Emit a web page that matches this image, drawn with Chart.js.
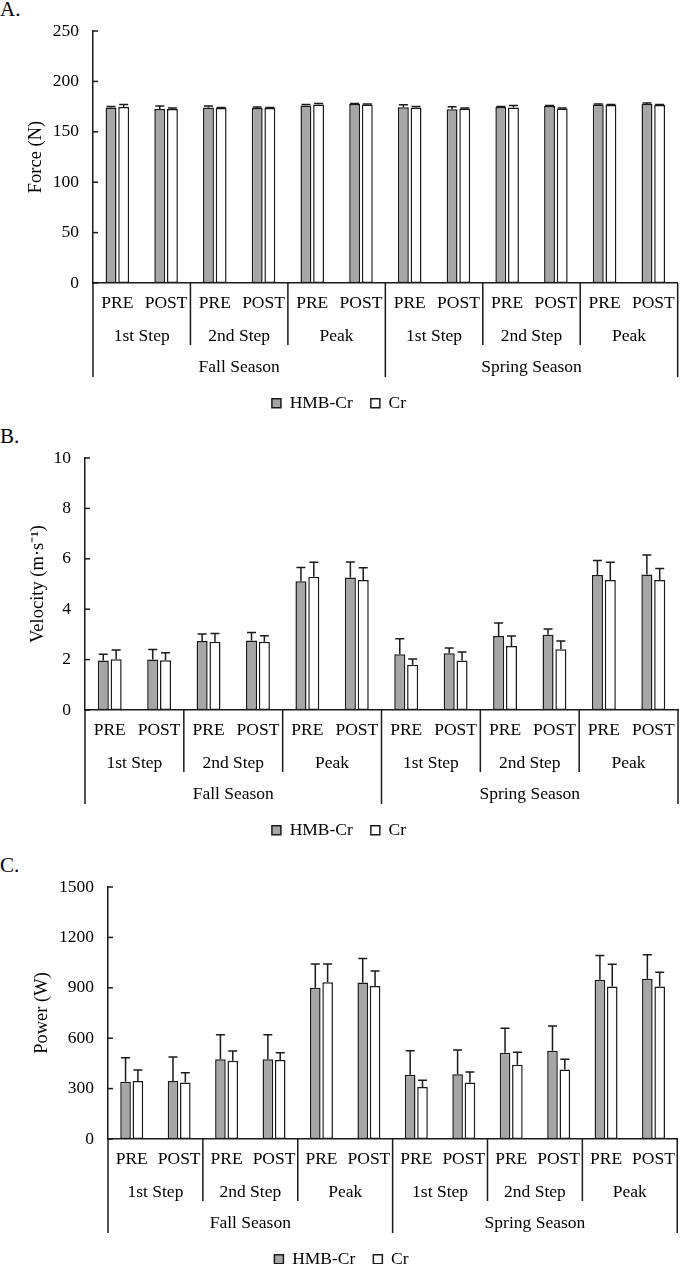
<!DOCTYPE html>
<html>
<head>
<meta charset="utf-8">
<script src="https://cdn.jsdelivr.net/npm/chart.js@4.4.0/dist/chart.umd.min.js"></script>
<style>
body { margin: 0; width: 685px; height: 1264px; overflow: hidden; background: #fff; position: relative; font-family: 'Liberation Serif', 'Times New Roman', serif; }
.panel { position: absolute; left: 0; width: 685px; height: 422px; }
.tag { position: absolute; left: 0; font-size: 21px; line-height: 21px; color: #000; }
</style>
</head>
<body>
<div class="tag" style="top:-1px">A.</div>
<div class="panel" style="top:0px"><canvas id="chartA"></canvas></div>
<div class="tag" style="top:426px">B.</div>
<div class="panel" style="top:427px"><canvas id="chartB"></canvas></div>
<div class="tag" style="top:855px">C.</div>
<div class="panel" style="top:856px"><canvas id="chartC"></canvas></div>
<script>
// x categories (three levels)
const categories = ['PRE', 'POST', 'PRE', 'POST', 'PRE', 'POST', 'PRE', 'POST', 'PRE', 'POST', 'PRE', 'POST'];
const steps = ['1st Step', '2nd Step', 'Peak', '1st Step', '2nd Step', 'Peak'];
const seasons = ['Fall Season', 'Spring Season'];
const seriesNames = ['HMB-Cr', 'Cr'];

// A. force (N)
const forceHmb = [174, 172.5, 174, 173.5, 176, 177.5, 174.3, 172.3, 174.5, 175.5, 177, 177.5];
const forceHmbErr = [1, 3, 1.5, 1, 1, 0.5, 2.5, 2.5, 0.5, 0.5, 0.5, 1];
const forceCr = [174.5, 172.5, 173.5, 173.5, 177, 177, 174, 173, 174, 173, 176.5, 176.5];
const forceCrErr = [2.5, 1, 0.5, 0.5, 1, 0.5, 1, 0.5, 2, 0.5, 0.5, 0.5];
const forceTicks = { max: 250, step: 50 };

// B. velocity (m/s)
const velHmb = [1.96, 2.0, 2.74, 2.76, 5.11, 5.26, 2.21, 2.25, 2.94, 2.99, 5.36, 5.38];
const velHmbErr = [0.25, 0.4, 0.28, 0.32, 0.54, 0.61, 0.62, 0.21, 0.51, 0.22, 0.57, 0.77];
const velCr = [2.01, 1.97, 2.71, 2.71, 5.29, 5.16, 1.8, 1.96, 2.54, 2.41, 5.16, 5.16];
const velCrErr = [0.37, 0.3, 0.33, 0.24, 0.57, 0.48, 0.22, 0.34, 0.4, 0.33, 0.7, 0.46];
const velTicks = { max: 10, step: 2 };

// C. power (W)
const powHmb = [341, 345, 474, 474, 901, 931, 383, 385, 514, 526, 948, 954];
const powHmbErr = [143, 143, 147, 147, 141, 144, 143, 145, 145, 147, 145, 143];
const powCr = [345, 337, 466, 470, 933, 911, 310, 337, 442, 413, 907, 907];
const powCrErr = [66, 58, 58, 44, 109, 89, 39, 62, 74, 61, 133, 85];
const powTicks = { max: 1500, step: 300 };

const FONT = "'Liberation Serif', 'Times New Roman', serif";
const INK = '#1a1a1a';

// draws error bars, inner y ticks and the grouped x axis rows
const axisExtras = {
    id: 'axisExtras',
    afterDatasetsDraw(chart, args, opts) {
        const ctx = chart.ctx;
        const x = chart.scales.x;
        const y = chart.scales.y;
        const area = chart.chartArea;
        ctx.save();
        ctx.strokeStyle = INK;
        ctx.lineWidth = 1.5;
        // error bars (upper only)
        opts.errors.forEach(function(errs, di){
            const meta = chart.getDatasetMeta(di);
            meta.data.forEach(function(bar, i){
                const val = chart.data.datasets[di].data[i];
                const top = y.getPixelForValue(val + errs[i]);
                ctx.beginPath();
                ctx.moveTo(bar.x, bar.y);
                ctx.lineTo(bar.x, top);
                ctx.moveTo(bar.x - 4.5, top);
                ctx.lineTo(bar.x + 4.5, top);
                ctx.stroke();
            });
        });
        // small ticks pointing into the plot
        y.ticks.forEach(function(t){
            const py = y.getPixelForValue(t.value);
            ctx.beginPath();
            ctx.moveTo(area.left, py);
            ctx.lineTo(area.left + 5, py);
            ctx.stroke();
        });
        const y0 = area.bottom;
        const px = function(i){ return x.getPixelForValue(i); };
        const mid = function(i){ return (px(i) + px(i + 1)) / 2; };
        // dividers
        [1, 3, 7, 9].forEach(function(i){
            ctx.beginPath();
            ctx.moveTo(mid(i), y0);
            ctx.lineTo(mid(i), y0 + 62);
            ctx.stroke();
        });
        [area.left, mid(5), area.right].forEach(function(xx){
            ctx.beginPath();
            ctx.moveTo(xx, y0);
            ctx.lineTo(xx, y0 + 94);
            ctx.stroke();
        });
        // step and season labels
        ctx.fillStyle = '#000';
        ctx.font = '17.5px ' + FONT;
        ctx.textAlign = 'center';
        ctx.textBaseline = 'middle';
        steps.forEach(function(s, j){
            ctx.fillText(s, (px(2 * j) + px(2 * j + 1)) / 2, y0 + 53);
        });
        seasons.forEach(function(s, k){
            ctx.fillText(s, (px(6 * k) + px(6 * k + 5)) / 2, y0 + 84);
        });
        ctx.restore();
    }
};

function makeChart(id, cfg){
    const ctx = document.getElementById(id).getContext('2d');
    return new Chart(ctx, {
        type: 'bar',
        data: {
            labels: categories,
            datasets: [{
                label: seriesNames[0],
                data: cfg.hmb,
                backgroundColor: '#a6a6a6',
                borderColor: INK,
                borderWidth: 1.5,
                borderSkipped: false,
                categoryPercentage: 0.52,
                barPercentage: 0.86
            }, {
                label: seriesNames[1],
                data: cfg.cr,
                backgroundColor: '#ffffff',
                borderColor: INK,
                borderWidth: 1.5,
                borderSkipped: false,
                categoryPercentage: 0.52,
                barPercentage: 0.86
            }]
        },
        options: {
            responsive: true,
            maintainAspectRatio: false,
            animation: false,
            layout: { padding: { left: 0, right: cfg.right, top: 31, bottom: 0 } },
            plugins: {
                legend: {
                    position: 'bottom',
                    labels: {
                        boxWidth: 9,
                        boxHeight: 9,
                        padding: 18,
                        color: '#000',
                        font: { family: FONT, size: 17.5 }
                    }
                },
                tooltip: { enabled: false },
                axisExtras: { errors: [cfg.hmbErr, cfg.crErr] }
            },
            scales: {
                x: {
                    grid: { display: false, drawTicks: false },
                    border: { display: true, color: INK, width: 1.5 },
                    ticks: {
                        color: '#000',
                        font: { family: FONT, size: 17.5 },
                        padding: 10,
                        autoSkip: false,
                        maxRotation: 0
                    },
                    afterFit: function(scale){ scale.height = 93.5; }
                },
                y: {
                    min: 0,
                    max: cfg.ticks.max,
                    grid: { display: false, drawTicks: false },
                    border: { display: true, color: INK, width: 1.5 },
                    ticks: {
                        stepSize: cfg.ticks.step,
                        color: '#000',
                        font: { family: FONT, size: 17.5 },
                        padding: 14,
                        callback: function(v){ return String(v); }
                    },
                    title: {
                        display: true,
                        text: cfg.title,
                        color: '#000',
                        font: { family: FONT, size: 18.5 },
                        padding: { top: cfg.titlePad, bottom: 0 }
                    },
                    afterFit: function(scale){ scale.width = cfg.left; }
                }
            }
        },
        plugins: [axisExtras]
    });
}

makeChart('chartA', { hmb: forceHmb, hmbErr: forceHmbErr, cr: forceCr, crErr: forceCrErr, ticks: forceTicks, title: 'Force (N)', left: 93, right: 7, titlePad: 25 });
makeChart('chartB', { hmb: velHmb, hmbErr: velHmbErr, cr: velCr, crErr: velCrErr, ticks: velTicks, title: 'Velocity (m\u00b7s\u207b\u00b9)', left: 85, right: 7, titlePad: 27 });
makeChart('chartC', { hmb: powHmb, hmbErr: powHmbErr, cr: powCr, crErr: powCrErr, ticks: powTicks, title: 'Power (W)', left: 108, right: 2, titlePad: 31 });
</script>
</body>
</html>
